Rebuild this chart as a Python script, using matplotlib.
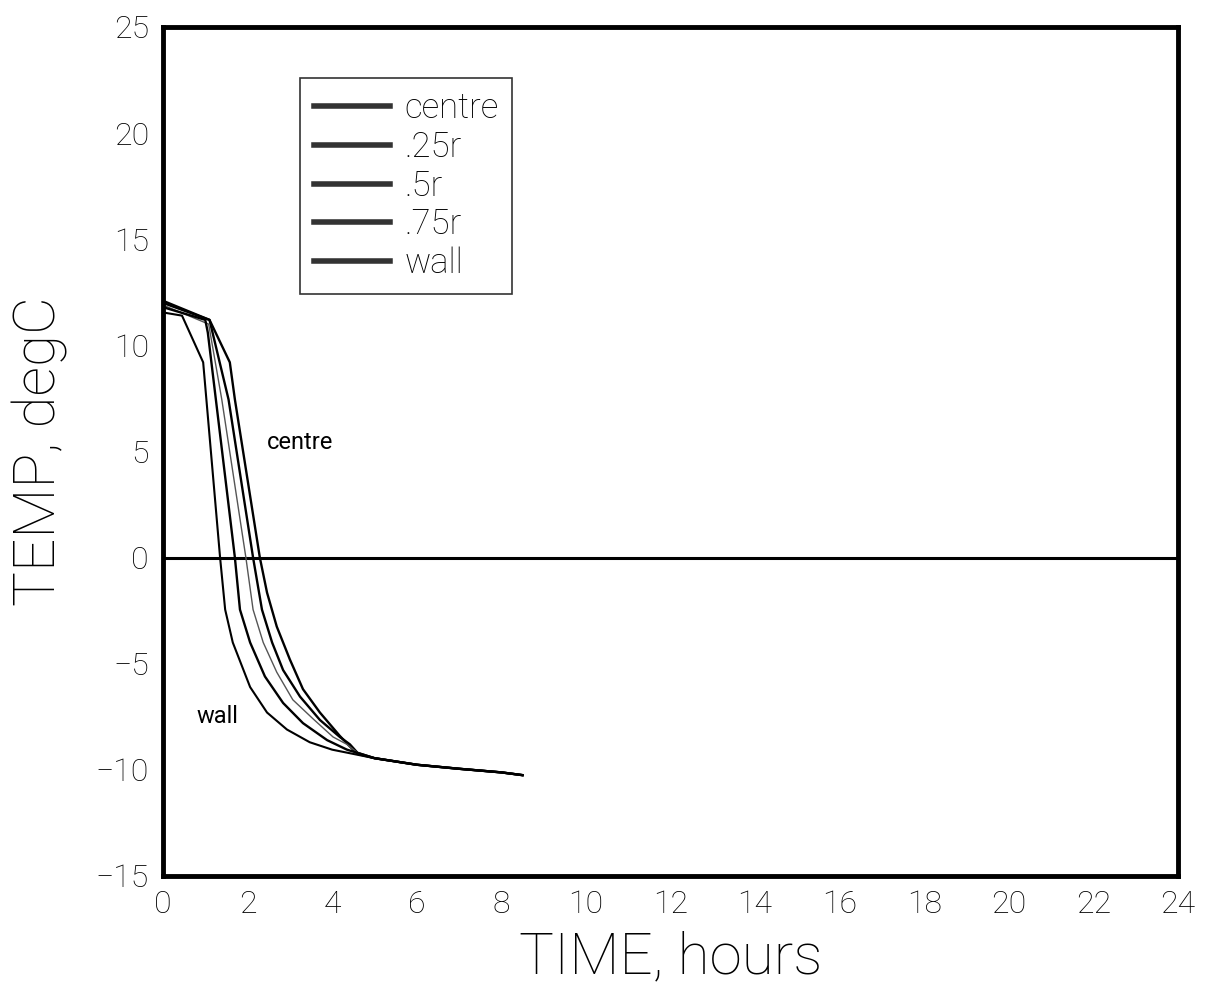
import numpy as np
import matplotlib.pyplot as plt

# temperature histories (time in hours, temp in degC)
t_centre = [0, 1.1, 1.58, 1.70, 2.29, 2.46, 2.69, 3.0, 3.31, 3.71, 4.18, 4.42, 4.6, 5.0, 6.0, 7.0, 8.0, 8.5]
T_centre = [12.1, 11.2, 9.2, 7.45, 0.0, -1.65, -3.25, -4.8, -6.2, -7.3, -8.4, -8.9, -9.25, -9.45, -9.76, -9.95, -10.12, -10.25]

t_r25 = [0, 1.1, 1.55, 2.13, 2.34, 2.58, 2.84, 3.24, 3.71, 4.18, 4.42, 4.6, 5.0, 6.0, 7.0, 8.0, 8.5]
T_r25 = [12.0, 11.2, 7.45, 0.0, -2.45, -4.0, -5.3, -6.55, -7.65, -8.45, -8.8, -9.2, -9.45, -9.76, -9.95, -10.12, -10.25]

t_r50 = [0, 1.08, 1.39, 1.96, 2.13, 2.37, 2.69, 3.07, 3.55, 4.02, 4.35, 4.6, 5.0, 6.0, 7.0, 8.0, 8.5]
T_r50 = [11.9, 11.0, 7.45, 0.0, -2.45, -4.0, -5.4, -6.7, -7.6, -8.45, -8.8, -9.2, -9.45, -9.76, -9.95, -10.12, -10.25]

t_r75 = [0, 1.0, 1.06, 1.70, 1.82, 2.06, 2.41, 2.84, 3.31, 3.88, 4.35, 4.6, 5.0, 6.0, 7.0, 8.0, 8.5]
T_r75 = [11.8, 11.2, 10.6, 0.0, -2.45, -4.0, -5.6, -6.85, -7.8, -8.6, -9.05, -9.2, -9.45, -9.76, -9.95, -10.12, -10.25]

t_wall = [0, 0.45, 0.95, 1.35, 1.47, 1.65, 2.06, 2.46, 2.93, 3.47, 4.0, 4.5, 5.0, 6.0, 7.0, 8.0, 8.5]
T_wall = [11.55, 11.4, 9.2, 0.0, -2.45, -4.0, -6.1, -7.3, -8.1, -8.7, -9.05, -9.25, -9.45, -9.76, -9.95, -10.12, -10.25]

labels = ['centre', '.25r', '.5r', '.75r', 'wall']
xticks = list(range(0, 25, 2))
yticks = list(range(-15, 26, 5))

plt.rcParams['font.family'] = ['Roboto', 'DejaVu Sans']
plt.rcParams['font.weight'] = 'light'
plt.rcParams['axes.labelweight'] = 'light'

fig = plt.figure(figsize=(12.1, 9.88), dpi=100)
ax = fig.add_axes([0.1347, 0.1134, 0.8389, 0.8593])

ax.axhline(0, color='black', lw=2.2, zorder=1)

ax.plot(t_centre, T_centre, color='black', lw=1.7, label=labels[0])
ax.plot(t_r25, T_r25, color='black', lw=1.7, label=labels[1])
ax.plot(t_r50, T_r50, color='#555555', lw=1.0, label=labels[2])
ax.plot(t_r75, T_r75, color='black', lw=1.7, label=labels[3])
ax.plot(t_wall, T_wall, color='black', lw=1.5, label=labels[4])

ax.set_xlim(0, 24)
ax.set_ylim(-15, 25)
ax.set_xticks(xticks)
ax.set_yticks(yticks)
ax.set_xticklabels([str(v) for v in xticks])
ax.set_yticklabels([str(v).replace('-', '\u2212') for v in yticks])
ax.tick_params(length=0, labelsize=23, pad=10)

for s in ax.spines.values():
    s.set_linewidth(3.5)

ax.set_xlabel('TIME, hours', fontsize=42, labelpad=8)
ax.set_ylabel('TEMP, degC', fontsize=42, labelpad=20)

ax.text(2.45, 5.4, 'centre', fontsize=17, fontweight='normal', ha='left', va='center')
ax.text(0.8, -7.5, 'wall', fontsize=17, fontweight='normal', ha='left', va='center')

leg = ax.legend(loc='upper left', bbox_to_anchor=(0.135, 0.94), borderaxespad=0,
                fancybox=False, edgecolor='black', fontsize=25, handlelength=2.2,
                labelspacing=0.15, handletextpad=0.4, borderpad=0.4)
leg.get_frame().set_linewidth(1.2)
for h in leg.get_lines():
    h.set_linewidth(4)
    h.set_color('#333333')

fig.savefig('out.png', dpi=100)
